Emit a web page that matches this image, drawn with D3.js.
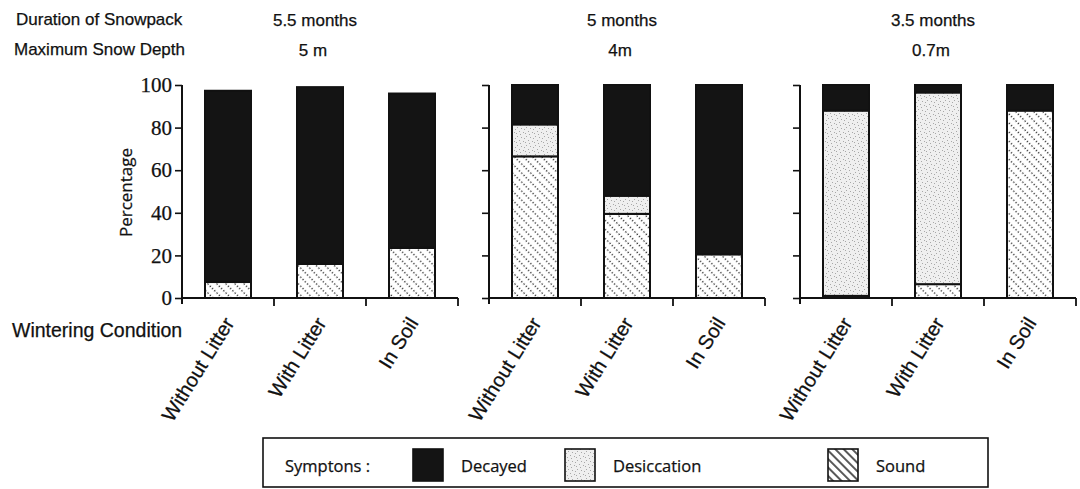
<!DOCTYPE html>
<html>
<head>
<meta charset="utf-8">
<script src="https://cdn.jsdelivr.net/npm/d3@7"></script>
<style>
  body { margin: 0; background: #fff; }
  svg { display: block; }
  text { stroke: #111; stroke-width: 0.25px; }
</style>
</head>
<body>
<div id="chart"></div>
<script>
// ---- data ----
const conditions = ["Without Litter", "With Litter", "In Soil"];
const durations = ["5.5 months", "5 months", "3.5 months"];
const depths = ["5 m", "4m", "0.7m"];
const symptoms = ["Sound", "Desiccation", "Decayed"];   // stacked bottom to top
// one row per panel (snowpack site), one value per wintering condition
const sound       = [[7.5, 16, 23.5], [66.5, 39.5, 20.5], [1, 6.5, 88]];
const desiccation = [[0, 0, 0],       [15, 8.5, 0],       [87, 90, 0]];
const decayed     = [[89.8, 83, 72.5],[18.5, 52, 79.5],   [12, 3.5, 12]];
const yTicks = [0, 20, 40, 60, 80, 100];
const legendItems = ["Decayed", "Desiccation", "Sound"];

// ---- setup ----
const width = 1080, height = 489;
const panelX = [182, 489, 800];
const panelW = 276;

const svg = d3.select("#chart").append("svg")
  .attr("width", width).attr("height", height);

const defs = svg.append("defs");

// dotted diagonal lines for "Sound"
const pSound = defs.append("pattern")
  .attr("id", "soundDots").attr("patternUnits", "userSpaceOnUse")
  .attr("width", 3.2).attr("height", 6.4)
  .attr("patternTransform", "rotate(45)");
pSound.append("rect").attr("width", 3.2).attr("height", 6.4).attr("fill", "#fff");
pSound.append("rect").attr("x", 1).attr("y", 2.6).attr("width", 1.3).attr("height", 1.3).attr("fill", "#222");

// solid diagonal lines for the legend swatch
const pSoundLeg = defs.append("pattern")
  .attr("id", "soundLines").attr("patternUnits", "userSpaceOnUse")
  .attr("width", 10).attr("height", 6)
  .attr("patternTransform", "rotate(45)");
pSoundLeg.append("rect").attr("width", 10).attr("height", 6).attr("fill", "#fff");
pSoundLeg.append("line").attr("x1", 0).attr("x2", 10).attr("y1", 3).attr("y2", 3)
  .attr("stroke", "#111").attr("stroke-width", 1.4);

// light stipple for "Desiccation"
const pDes = defs.append("pattern")
  .attr("id", "stipple").attr("patternUnits", "userSpaceOnUse")
  .attr("width", 9).attr("height", 9);
pDes.append("rect").attr("width", 9).attr("height", 9).attr("fill", "#efefef");
[[1, 1], [5, 2], [3, 5], [7, 6], [0, 7], [8, 3], [4, 8]].forEach(([dx, dy]) => {
  pDes.append("rect").attr("x", dx).attr("y", dy).attr("width", 1).attr("height", 1).attr("fill", "#a8a8a8");
});

const fills = { Sound: "url(#soundDots)", Desiccation: "url(#stipple)", Decayed: "#141414" };
const legendFills = { Sound: "url(#soundLines)", Desiccation: "url(#stipple)", Decayed: "#141414" };

const y = d3.scaleLinear().domain([0, 100]).range([298, 85]);

const stack = d3.stack().keys(symptoms);

// ---- panels ----
panelX.forEach((x0, p) => {
  const g = svg.append("g").attr("transform", `translate(${x0},0)`);

  const x = d3.scaleBand().domain(conditions).range([0, panelW])
    .paddingInner(0.5).paddingOuter(0.25);
  const step = panelW / conditions.length;

  const rows = conditions.map((c, i) => ({
    cond: c,
    Sound: sound[p][i],
    Desiccation: desiccation[p][i],
    Decayed: decayed[p][i]
  }));
  const series = stack(rows);

  series.forEach(s => {
    g.selectAll(null).data(s.filter(d => d[1] - d[0] > 0)).enter()
      .append("rect")
      .attr("x", d => x(d.data.cond))
      .attr("width", x.bandwidth())
      .attr("y", d => y(d[1]))
      .attr("height", d => y(d[0]) - y(d[1]))
      .attr("fill", fills[s.key])
      .attr("stroke", "#111")
      .attr("stroke-width", 2);
  });

  // y axis
  const yAxis = d3.axisLeft(y).tickValues(yTicks).tickSize(7).tickPadding(3);
  if (p > 0) yAxis.tickFormat("");
  const ya = g.append("g").call(yAxis);
  ya.select(".domain").remove();
  ya.selectAll("line").attr("stroke", "#111").attr("stroke-width", 1.6);
  ya.selectAll("text")
    .attr("font-family", "'Liberation Serif', serif")
    .attr("font-size", 21).attr("fill", "#111");
  g.append("line")
    .attr("x1", 0).attr("x2", 0)
    .attr("y1", y(100)).attr("y2", y(0) + 6)
    .attr("stroke", "#111").attr("stroke-width", 2);

  // x axis: line with downward ticks at band boundaries
  g.append("line")
    .attr("x1", 0).attr("x2", panelW)
    .attr("y1", y(0)).attr("y2", y(0))
    .attr("stroke", "#111").attr("stroke-width", 2);
  g.selectAll(null).data(conditions).enter().append("line")
    .attr("x1", (d, i) => step * (i + 1)).attr("x2", (d, i) => step * (i + 1))
    .attr("y1", y(0)).attr("y2", y(0) + 8)
    .attr("stroke", "#111").attr("stroke-width", 1.8);

  // category labels
  g.selectAll(null).data(conditions).enter().append("text")
    .attr("transform", d => `translate(${x(d) + x.bandwidth() / 2 + 7},323) rotate(-58)`)
    .attr("text-anchor", "end")
    .attr("font-family", "'Liberation Sans', Arial, sans-serif")
    .attr("font-size", 20).attr("fill", "#111")
    .text(d => d);

  // site headers
  const cx = panelW / 2 - 5;
  g.append("text").attr("x", cx).attr("y", 25.5).attr("text-anchor", "middle")
    .attr("font-family", "'Liberation Sans', Arial, sans-serif")
    .attr("font-size", 17).attr("fill", "#111").text(durations[p]);
  g.append("text").attr("x", cx - 2).attr("y", 55.5).attr("text-anchor", "middle")
    .attr("font-family", "'Liberation Sans', Arial, sans-serif")
    .attr("font-size", 17).attr("fill", "#111").text(depths[p]);
});

// ---- row titles ----
const sans = "'Liberation Sans', Arial, sans-serif";
svg.append("text").attr("x", 16).attr("y", 25).attr("font-family", sans)
  .attr("font-size", 17).attr("fill", "#111").text("Duration of Snowpack");
svg.append("text").attr("x", 14).attr("y", 55).attr("font-family", sans)
  .attr("font-size", 17).attr("fill", "#111").text("Maximum Snow Depth");
svg.append("text").attr("x", 12).attr("y", 337).attr("font-family", sans)
  .attr("font-size", 19.5).attr("fill", "#111").text("Wintering Condition");

svg.append("text")
  .attr("transform", `translate(132,${(y(0) + y(100)) / 2 + 1}) rotate(-90)`)
  .attr("text-anchor", "middle")
  .attr("font-family", "'Open Sans', sans-serif")
  .attr("font-size", 17).attr("fill", "#111")
  .text("Percentage");

// ---- legend ----
const lg = svg.append("g");
lg.append("rect").attr("x", 263).attr("y", 438).attr("width", 725).attr("height", 49)
  .attr("fill", "#fff").attr("stroke", "#111").attr("stroke-width", 1.6);
lg.append("text").attr("x", 285).attr("y", 472).attr("font-family", "'Open Sans', sans-serif")
  .attr("font-size", 16.5).attr("fill", "#111").text("Symptons :");

const swatchX = d3.scaleOrdinal().domain(legendItems).range([413, 565, 828]);
lg.selectAll(null).data(legendItems).enter().append("rect")
  .attr("x", d => swatchX(d)).attr("y", 449)
  .attr("width", 30).attr("height", 32)
  .attr("fill", d => legendFills[d])
  .attr("stroke", "#111").attr("stroke-width", 1.6);
lg.selectAll(null).data(legendItems).enter().append("text")
  .attr("x", d => swatchX(d) + 48).attr("y", 472)
  .attr("font-family", "'Open Sans', sans-serif")
  .attr("font-size", 16.5).attr("fill", "#111")
  .text(d => d);
</script>
</body>
</html>
